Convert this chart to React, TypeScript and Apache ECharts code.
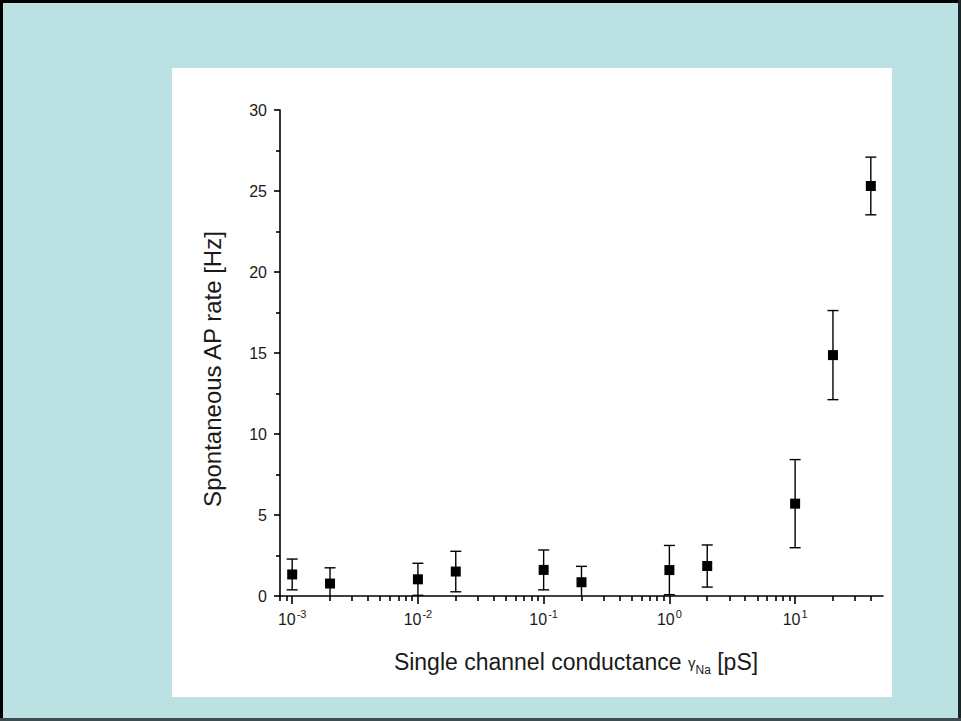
import React, { useEffect, useRef } from "react";
import * as echarts from "echarts";

// Data
const conductance = [0.001, 0.002, 0.01, 0.02, 0.1, 0.2, 1, 2, 10, 20, 40];
const apRate = [1.33, 0.77, 1.03, 1.51, 1.61, 0.85, 1.6, 1.85, 5.7, 14.87, 25.31];
const apError = [0.95, 0.97, 0.99, 1.25, 1.23, 0.98, 1.52, 1.3, 2.72, 2.75, 1.78];

// Axis decoration
const majorTicks = [0.001, 0.01, 0.1, 1, 10];
const minorTicks = [
  0.0008, 0.0009,
  0.002, 0.003, 0.004, 0.005, 0.006, 0.007, 0.008, 0.009,
  0.02, 0.03, 0.04, 0.05, 0.06, 0.07, 0.08, 0.09,
  0.2, 0.3, 0.4, 0.5, 0.6, 0.7, 0.8, 0.9,
  2, 3, 4, 5, 6, 7, 8, 9,
  20, 30, 40,
];

const FONT = "'Liberation Sans', Arial, Helvetica, sans-serif";
const TEXT = "#1a1a1a";

export default function App() {
  const ref = useRef<HTMLDivElement>(null);

  useEffect(() => {
    if (!ref.current) return;
    const chart = echarts.init(ref.current, null, { renderer: "svg" });

    const points = conductance.map((x, i) => [x, apRate[i]]);
    const bars = conductance.map((x, i) => [x, apRate[i], apError[i]]);

    const axisLineStyle = { color: "#000", width: 1.6 };

    const option: any = {
      animation: false,
      backgroundColor: "transparent",
      grid: { left: 280, right: 78, top: 110, bottom: 125, containLabel: false },
      xAxis: [
        {
          type: "log",
          logBase: 10,
          min: 0.0008,
          max: 50,
          position: "bottom",
          axisLine: { show: true, onZero: false, lineStyle: axisLineStyle },
          axisTick: { show: true, customValues: majorTicks, length: 8, lineStyle: axisLineStyle },
          minorTick: { show: false },
          splitLine: { show: false },
          axisLabel: {
            customValues: majorTicks,
            margin: 12,
            formatter: (v: number) => {
              const e = Math.round(Math.log10(v));
              return "{b|10}{s|" + e + "}";
            },
            rich: {
              b: { fontSize: 16, fontFamily: FONT, color: TEXT, lineHeight: 22 },
              s: { fontSize: 11, fontFamily: FONT, color: TEXT, verticalAlign: "top", padding: [0, 0, 0, 1] },
            },
          },
        },
        {
          type: "log",
          logBase: 10,
          min: 0.0008,
          max: 50,
          position: "bottom",
          gridIndex: 0,
          axisLine: { show: false, onZero: false },
          axisTick: { show: true, customValues: minorTicks, length: 5, lineStyle: axisLineStyle },
          minorTick: { show: false },
          splitLine: { show: false },
          axisLabel: { show: false },
        },
      ],
      yAxis: {
        type: "value",
        min: 0,
        max: 30,
        interval: 5,
        axisLine: { show: true, onZero: false, lineStyle: axisLineStyle },
        axisTick: { show: true, length: 6, lineStyle: axisLineStyle },
        minorTick: { show: true, splitNumber: 2, length: 4, lineStyle: axisLineStyle },
        splitLine: { show: false },
        axisLabel: { fontSize: 16, fontFamily: FONT, color: TEXT, margin: 13 },
      },
      graphic: [
        {
          type: "text",
          x: 212,
          y: 369,
          rotation: Math.PI / 2,
          style: {
            text: "Spontaneous AP rate [Hz]",
            fontSize: 24,
            fontFamily: FONT,
            fill: TEXT,
            align: "center",
            verticalAlign: "middle",
          },
        },
        {
          type: "text",
          x: 576,
          y: 662,
          style: {
            text: "{m|Single channel conductance }{g|γ}{n|Na}{m| [pS]}",
            align: "center",
            verticalAlign: "middle",
            rich: {
              m: { fontSize: 23, fontFamily: FONT, fill: TEXT, color: TEXT, lineHeight: 28 },
              g: { fontSize: 15, fontFamily: FONT, fill: TEXT, color: TEXT, lineHeight: 28 },
              n: { fontSize: 12, fontFamily: FONT, fill: TEXT, color: TEXT, verticalAlign: "bottom", lineHeight: 14 },
            },
          },
        },
      ],
      series: [
        {
          type: "custom",
          xAxisIndex: 0,
          yAxisIndex: 0,
          clip: true,
          z: 2,
          data: bars,
          encode: { x: 0, y: 1 },
          renderItem: (params: any, api: any) => {
            const x = api.value(0);
            const y = api.value(1);
            const e = api.value(2);
            const top = api.coord([x, y + e]);
            const bot = api.coord([x, y - e]);
            const half = 5.5;
            const style = { stroke: "#000", lineWidth: 1.4, fill: "none" };
            return {
              type: "group",
              children: [
                { type: "line", shape: { x1: top[0], y1: top[1], x2: bot[0], y2: bot[1] }, style },
                { type: "line", shape: { x1: top[0] - half, y1: top[1], x2: top[0] + half, y2: top[1] }, style },
                { type: "line", shape: { x1: bot[0] - half, y1: bot[1], x2: bot[0] + half, y2: bot[1] }, style },
              ],
            };
          },
        },
        {
          type: "scatter",
          xAxisIndex: 0,
          yAxisIndex: 0,
          z: 5,
          symbol: "rect",
          symbolSize: 10,
          itemStyle: { color: "#000", opacity: 1 },
          data: points,
        },
      ],
    };

    chart.setOption(option);
    return () => chart.dispose();
  }, []);

  return (
    <div style={{ position: "fixed", left: 0, top: 0, width: 961, height: 721, background: "#bce1e3", overflow: "hidden" }}>
      <div style={{ position: "absolute", left: 0, top: 0, width: 961, height: 3, background: "#000" }} />
      <div style={{ position: "absolute", left: 0, top: 0, width: 3, height: 721, background: "#000" }} />
      <div style={{ position: "absolute", right: 0, top: 0, width: 3, height: 721, background: "#1c2626" }} />
      <div style={{ position: "absolute", left: 0, bottom: 0, width: 961, height: 3, background: "#3c4b4b" }} />
      <div style={{ position: "absolute", left: 172, top: 68, width: 720, height: 629, background: "#fff" }} />
      <div ref={ref} style={{ position: "absolute", left: 0, top: 0, width: 961, height: 721 }} />
    </div>
  );
}
